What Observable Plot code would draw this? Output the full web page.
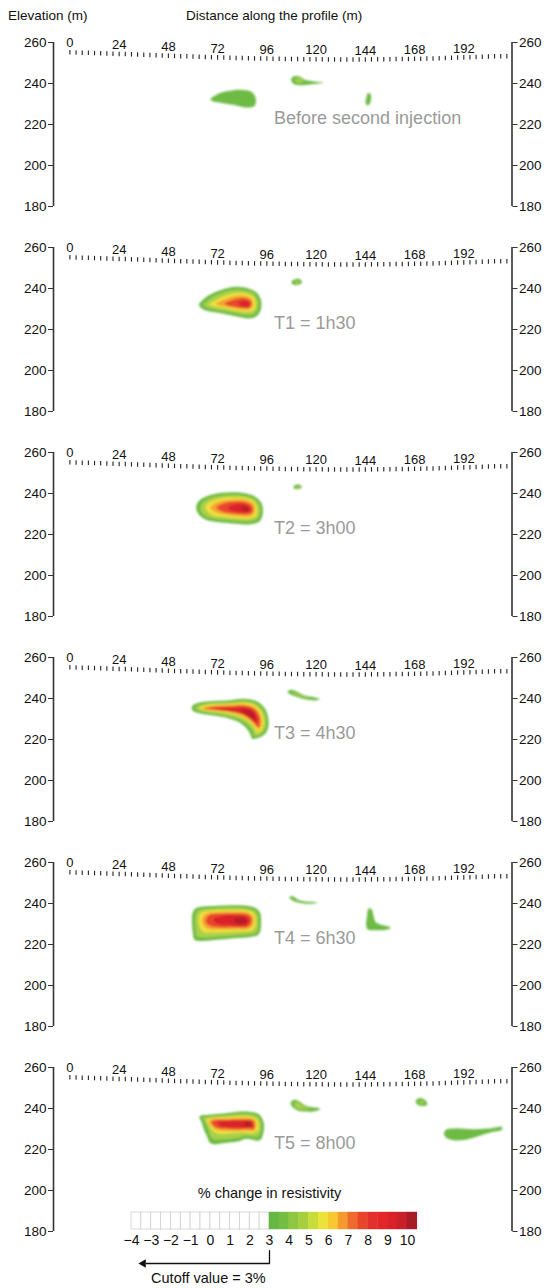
<!DOCTYPE html>
<html><head><meta charset="utf-8">
<script src="https://cdn.jsdelivr.net/npm/d3@7"></script>
<script src="https://cdn.jsdelivr.net/npm/@observablehq/plot@0.6"></script>
<style>
body{margin:0;background:#fff;font-family:"Liberation Sans",Arial,sans-serif;}
#wrap{position:relative;width:546px;height:1288px;overflow:hidden;}
.hdr{position:absolute;top:8px;font-size:13.5px;line-height:15px;color:#111;}
#panels{position:absolute;top:24px;left:0;}
#panels svg{display:block;}
#legend{position:absolute;left:0;top:1180px;}
#legend svg{display:block;}
</style></head><body>
<div id="wrap">
<div class="hdr" style="left:8px">Elevation (m)</div>
<div class="hdr" style="left:186px">Distance along the profile (m)</div>
<div id="panels"></div>
<div id="legend"></div>
</div>
<script>
// ---------------- data ----------------
const yTicks = [180, 200, 220, 240, 260];
const distTicks = [0, 24, 48, 72, 96, 120, 144, 168, 192];
const panelLabels = ["Before second injection", "T1 = 1h30", "T2 = 3h00", "T3 = 4h30", "T4 = 6h30", "T5 = 8h00"];

// electrode positions (m) and elevations (m)
const electrodeX = [0,3,6,9,12,15,18,21,24,27,30,33,36,39,42,45,48,51,54,57,60,63,66,69,72,75,78,81,84,87,90,93,96,99,102,105,108,111,114,117,120,123,126,129,132,135,138,141,144,147,150,153,156,159,162,165,168,171,174,177,180,183,186,189,192,195,198,201,204,207,210,213];
const electrodeZ = [255.0,254.9,254.8,254.7,254.6,254.5,254.4,254.3,254.2,254.1,254.0,253.9,253.8,253.7,253.5,253.4,253.3,253.2,253.1,253.0,252.9,252.8,252.7,252.6,252.5,252.4,252.3,252.25,252.2,252.1,252.0,251.95,251.9,251.85,251.8,251.75,251.7,251.65,251.6,251.6,251.55,251.55,251.5,251.5,251.5,251.5,251.5,251.5,251.5,251.55,251.55,251.6,251.6,251.65,251.7,251.75,251.8,251.85,251.9,252.0,252.1,252.2,252.3,252.4,252.5,252.6,252.7,252.8,252.9,253.0,253.05,253.1];

// contour levels (% change in resistivity) and their fills
const levels = [3, 4, 5, 6, 7, 8, 9];
const levelFills = ["#6dbb45", "#a9d04c", "#f0e03e", "#f4a232", "#e8462d", "#da2429", "#b51e27"];

// contour rings per panel: [level, [[distance, elevation], ...]]
const ringsBefore = [
  [3, [[68.5,232.3],[72,234.8],[77,236.3],[83,237.0],[88.5,236.0],[90.5,233.0],[90.0,229.0],[86,228.3],[80,229.5],[74,230.5],[70,231.2]]],
  [3, [[107.8,242.2],[109.5,243.6],[112,243.4],[114.5,241.8],[119,241.0],[123.5,240.5],[119,239.7],[113,239.2],[109,239.8]]],
  [4, [[109.5,241.8],[111.5,242.6],[114,241.3],[111.5,240.3]]],
  [3, [[145.3,235.3],[146.6,234.8],[146.5,231],[145.2,229.2],[144.2,230.5],[144.6,233.5]]]
];
const ringsT1 = [
  [3, [[62.9,231.9],[66,235.5],[71,238.3],[77,240.3],[82,240.8],[87,240.0],[91,238.0],[93.2,234],[93,229.5],[91,226.5],[87,225.4],[82,226.2],[76,227.5],[70,228.5],[65,229.8]]],
  [4, [[65,232.0],[68,234.8],[72.5,237.2],[78,239.0],[82.5,239.4],[87,238.6],[90,237],[91.8,233.8],[91.6,230],[90,227.8],[87,227],[82,227.7],[76,228.9],[70,229.9],[66.5,230.8]]],
  [5, [[68,232.2],[72,234.8],[77,237],[82.5,237.8],[87,237.2],[89.8,235.5],[90.5,232.5],[89.8,229.6],[87,228.5],[82,229],[76,230.2],[71,231.1]]],
  [6, [[71,232.3],[75,234.5],[80,236.2],[85,236.5],[88.5,235],[89.3,232.5],[88.4,230.2],[85,229.6],[80,230.4],[75,231.4]]],
  [7, [[75.5,232.5],[80,234.6],[85,235.3],[88,234.2],[88.5,232],[87.5,230.6],[84,230.5],[79,231.3]]],
  [8, [[82,232.8],[85.5,234],[87.5,233],[87.2,231.3],[84.5,231.2]]],
  [3, [[108,243.2],[110,244.6],[112.5,244.3],[113,242.6],[110.5,241.7],[108.5,242.1]]],
  [4, [[109.5,243.2],[111,243.8],[112,243],[110.5,242.5]]]
];
const ringsT2 = [
  [3, [[61.5,233],[63,236.5],[67,238.8],[73,240.2],[80,240.6],[86,240],[90.5,238.3],[93.5,235],[94,230],[92.5,226.5],[88,225],[81,225.3],[73,226],[67,227],[63,229.5]]],
  [4, [[63.5,233],[65,236],[68.5,237.8],[74,239],[80,239.4],[86,238.8],[90,237.2],[92.3,234.5],[92.6,230],[91.2,227.6],[87.5,226.4],[81,226.6],[73.5,227.3],[67.5,228.3],[64.5,230.3]]],
  [5, [[66,233],[68,235.8],[73,237.6],[80,238.2],[86,237.7],[89.8,236],[91.3,232.5],[90.8,229],[87.5,227.7],[81,227.9],[74,228.6],[69,229.6]]],
  [6, [[68.5,233],[71,235.4],[76,236.7],[82,237.1],[87,236.5],[89.8,234.5],[90,231],[88.5,229],[83,228.9],[76,229.6],[71,230.8]]],
  [7, [[71.5,233],[75,235.2],[81,236.1],[86.5,235.5],[89,233.5],[88.8,230.7],[86,229.8],[80,230.2],[74.5,231.1]]],
  [8, [[77,233],[81,234.8],[86,234.5],[88,232.8],[87.5,231],[84,230.7],[79,231.6]]],
  [9, [[83,233],[86,233.5],[87.3,232.2],[85.5,231.3]]],
  [3, [[109,243.3],[110.5,244.4],[112.5,244],[112.8,242.7],[110.8,242.2],[109.2,242.5]]],
  [4, [[110.2,243.3],[111.3,243.7],[112,243.1],[111,242.8]]]
];
const ringsT3 = [
  [3, [[59.5,236.2],[63,238],[70,238.8],[78,239.2],[85.5,239.8],[90.8,238.8],[94.8,235.5],[96.6,231],[96.8,226.5],[95.2,222.8],[91.8,220.8],[88.8,220.4],[88,222.5],[86,225.5],[82,228.6],[77,230.4],[70,231.7],[63,232.8],[59.8,234.2]]],
  [4, [[61.3,235.8],[65,237.3],[71,237.9],[78.5,238.2],[85.5,238.7],[90,237.8],[93.6,235],[95.4,231],[95.6,226.8],[94.2,223.6],[91.8,222],[89.8,221.9],[89.2,224],[87.2,226.6],[83,229.6],[77.5,231.4],[70.5,232.7],[64,233.7],[61.5,234.5]]],
  [5, [[63,235.5],[67,236.8],[72,237.3],[79,237.5],[85.5,237.9],[89.5,237],[92.6,234.6],[94.3,230.8],[94.5,227],[93.3,224.5],[91.2,223.2],[90.4,225],[88.4,227.6],[84,230.6],[78,232.4],[71,233.5],[65.5,234.3]]],
  [6, [[64.5,235.3],[69,236.4],[79,236.8],[85.3,237.1],[89,236.2],[91.8,234],[93.3,230.6],[93.4,227.2],[92.3,225],[90.6,226.2],[88.3,228.8],[84,231.5],[78,233.2],[71,234.1],[66,234.6]]],
  [7, [[65.5,235.1],[70,235.9],[79,236.2],[85,236.5],[88.6,235.6],[91.2,233.5],[92.5,230.5],[92.6,227.5],[91.8,226],[89.6,228.4],[86,231.2],[82,233],[76,233.9],[69,234.5]]],
  [8, [[70,235],[80,235.3],[86,235.5],[89,234.3],[90.9,231.8],[91.3,228.8],[90.3,228.2],[87,231],[82,233.2],[76,234]]],
  [9, [[83.5,234.3],[87.5,234],[89.8,232],[90.2,229.8],[88,231.2],[85,233.2]]],
  [3, [[106,243.3],[107.5,244.2],[110,243.6],[114,241.6],[119,240.6],[122,239.7],[120,239.1],[115,239.5],[110,241],[107,242.3]]],
  [4, [[108,243],[110.5,242.5],[114,240.9],[117,240.2],[114,240.3],[110,241.8]]]
];
const ringsT4 = [
  [3, [[59.7,235],[61,237.5],[65,238.5],[72,238.9],[79,239.2],[85,239],[90,238],[92.7,235.5],[93.2,231],[92.8,226.5],[91.5,224.5],[88,223.7],[80,223],[72,222.3],[64,221.7],[60.7,222.3],[59.9,226],[59.5,231]]],
  [4, [[61.3,234.5],[62.5,236.5],[66,237.4],[72,237.8],[79,238],[85,237.8],[89.3,236.8],[91.5,234.8],[91.9,231],[91.5,227],[90.2,225.5],[87.5,225],[80,224.4],[72,223.8],[65,223.4],[62,224],[61.3,227],[61,231]]],
  [5, [[63,234],[64.5,235.8],[68,236.5],[74,236.8],[80,237],[86,236.7],[89.6,235.3],[90.6,232],[90.3,228.5],[88.5,226.7],[84,226.3],[77,226],[70,225.8],[65,226.2],[63.2,228.5],[62.8,231.5]]],
  [6, [[64.7,233.3],[67,235.2],[72,235.8],[80,236],[86,235.7],[88.8,234.3],[89.5,231.8],[89,229],[86.5,227.6],[80,227.4],[73,227.3],[67.5,227.6],[65,229.5]]],
  [7, [[66.3,232.5],[68.5,234.6],[74,235],[81,235.1],[86.3,234.7],[88.3,233.2],[88.5,230.8],[86.8,228.7],[80,228.4],[73,228.4],[68.5,229],[66.5,230.5]]],
  [8, [[70,232.3],[74,233.9],[81,234.2],[86,233.6],[87.3,231.5],[86,229.5],[80,229.3],[74,229.6],[70.5,230.8]]],
  [9, [[80,232.5],[84.5,233],[86.3,231.5],[85,230.2],[81,230.4]]],
  [3, [[107,243.2],[108.5,243.5],[111,242],[115,241],[120.6,240.6],[119,240],[114,240],[110,240.8],[107.5,242.2]]],
  [3, [[145.6,237.6],[147.2,237],[148,234],[149,231],[151.5,229.7],[156.4,228.2],[154,227.2],[149,227],[145.2,227.3],[144.4,229.5],[144.8,233.5]]]
];
const ringsT5 = [
  [3, [[63.2,236.1],[64.3,233],[65,230.5],[66.8,226.5],[68.7,222.9],[75.8,223.2],[82.5,224.0],[85.9,225.2],[92.6,224.5],[94.3,228.1],[94.6,232],[94.0,234.5],[91.8,237.4],[84.2,238.5],[75.8,237.7],[67.4,236.9]]],
  [4, [[65,235.5],[66.3,232.5],[67.5,229.5],[69.5,225.2],[75.8,225],[82,225.6],[86,226.7],[91.5,226.2],[93,228.6],[93.2,232],[92.6,234.5],[90.8,236.4],[84,237.3],[76,236.6],[68,236]]],
  [5, [[66.5,234.5],[67.8,232],[69.5,229.3],[72,227.8],[78,227.8],[84,228.3],[89.5,228],[91.7,229.5],[92,232.5],[91.2,234.8],[89,235.9],[83,236.2],[76,235.8],[69,235.4]]],
  [6, [[67.8,233.8],[69,231.5],[71.5,229.6],[78,229],[85,229.2],[90,229.3],[90.8,232],[90.3,234.3],[88,235.2],[82,235.3],[75,235],[69.5,234.8]]],
  [7, [[69,233.6],[70.3,231.3],[73,230.2],[79,229.9],[86,230],[89.8,230.2],[90,232.5],[89.3,234.2],[84,234.6],[76,234.5],[70.5,234.3]]],
  [8, [[72,233.3],[74,231.2],[80,230.8],[87,230.9],[89,232.3],[88,233.8],[82,234],[76,233.9]]],
  [9, [[85,232.8],[86,231.3],[88.5,231.4],[89,232.5],[88,233.5],[86,233.5]]],
  [3, [[107.6,243],[109,244.2],[111.5,243.7],[115,241.3],[122,239.8],[120,238.8],[115,238.5],[110.5,239.3],[108,241.3]]],
  [4, [[109.3,242.3],[111,243],[114,241],[117,240],[114,239.6],[110.5,240.3]]],
  [3, [[168.6,243.8],[170.5,245.1],[172.8,244.4],[174.3,242],[172.5,241.2],[169.5,241.8]]],
  [4, [[170.2,243.6],[171.8,243.8],[172.5,242.5],[171,242.2]]],
  [3, [[182.3,228],[183.5,229.8],[188,230.3],[196,229.9],[204,230.2],[210.8,230.9],[210.5,229.6],[205,228.3],[199,226.5],[193,224.8],[187,224.5],[183.3,225.8]]]
];
const panelRings = [ringsBefore, ringsT1, ringsT2, ringsT3, ringsT4, ringsT5];

// legend
const legendWhiteCells = [-4,-3.5,-3,-2.5,-2,-1.5,-1,-0.5,0,0.5,1,1.5,2,2.5];
const legendColorCells = [3,3.5,4,4.5,5,5.5,6,6.5,7,7.5,8,8.5,9,9.5,10];
const legendColors = ["#66b844","#74bd43","#8dc640","#a6cf3d","#c9dc3a","#ece33a","#f7c832","#f49a2e","#ee6a2d","#e8452b","#e4302a","#e2262a","#da2029","#c81f28","#a81c25"];
const legendTickValues = [-4,-3,-2,-1,0,1,2,3,4,5,6,7,8,9,10];
const legendTickText = ["\u22124","\u22123","\u22122","\u22121","0","1","2","3","4","5","6","7","8","9","10"];
const cutoffValue = 3;

// ---------------- drawing ----------------
const FONT = "'Liberation Sans', Arial, Helvetica, sans-serif";
const xMin = -8, xMax = 215.5;
const electrodes = electrodeX.map((x, i) => ({x, z: electrodeZ[i]}));
const elevAt = d => electrodeZ[electrodeX.indexOf(d)];
const fillOf = lv => levelFills[levels.indexOf(lv)];

const holder = document.getElementById("panels");
panelRings.forEach((rings, p) => {
  const rows = rings.flatMap((r, i) => r[1].map(pt => ({ring: i, fill: fillOf(r[0]), x: pt[0], y: pt[1]})));
  const svg = Plot.plot({
    width: 546, height: 205,
    marginLeft: 53, marginRight: 34.5, marginTop: 18, marginBottom: 23,
    x: {domain: [xMin, xMax], axis: null},
    y: {domain: [180, 260], axis: null},
    color: {type: "identity"},
    style: {fontFamily: FONT, fontSize: "13.5px", color: "#111", background: "transparent", overflow: "visible"},
    marks: [
      Plot.line(rows, {x: "x", y: "y", z: "ring", fill: "fill", stroke: "none", curve: "catmull-rom-closed"}),
      Plot.ruleX(electrodes, {x: "x", y1: d => d.z - 1.1, y2: d => d.z + 1.1, stroke: "#222", strokeWidth: 1.1}),
      Plot.text(distTicks, {x: d => d, y: d => elevAt(d), dy: -9.5, text: d => String(d), fontSize: 13, fill: "#111"}),
      Plot.text([panelLabels[p]], {x: 99.5, y: 223.2, text: d => d, textAnchor: "start", fontSize: 18, fill: "#9a9a9a"}),
      Plot.axisY({anchor: "left", ticks: yTicks, tickSize: 5, tickPadding: 2, tickFormat: d => String(d), label: null, stroke: "#333", fontSize: 13.5}),
      Plot.axisY({anchor: "right", ticks: yTicks, tickSize: 5, tickPadding: 2, tickFormat: d => String(d), label: null, stroke: "#333", fontSize: 13.5}),
      Plot.ruleX([xMin, xMax], {y1: 180, y2: 260, stroke: "#333", strokeWidth: 1.6})
    ]
  });
  const s = d3.select(svg);
  s.append("defs").html(`<filter id="soft${p}" x="-30%" y="-30%" width="160%" height="160%"><feGaussianBlur stdDeviation="0.8"/></filter>`);
  s.select('g[aria-label="line"]').attr("filter", `url(#soft${p})`);
  holder.appendChild(svg);
});

// legend: y is measured in bar heights (0 = bar bottom, 1 = bar top)
const legend = Plot.plot({
  width: 546, height: 108,
  marginLeft: 131, marginRight: 139, marginTop: 32, marginBottom: 59,
  x: {domain: [-4, 10], axis: null},
  y: {domain: [0, 1], axis: null},
  style: {fontFamily: FONT, fontSize: "14px", color: "#111", background: "none", overflow: "visible"},
  marks: [
    Plot.rect(legendWhiteCells, {x1: d => d, x2: d => d + 0.5, y1: 0, y2: 1, fill: "#fff", stroke: "#cfcfcf", strokeWidth: 0.8}),
    Plot.rect(legendColorCells, {x1: d => d, x2: d => d + 0.5, y1: 0, y2: 1, fill: (d, i) => legendColors[i], inset: -0.2}),
    Plot.text(["% change in resistivity"], {x: cutoffValue, y: 2.12, text: d => d, fontSize: 14.5, fill: "#111"}),
    Plot.text(legendTickValues, {x: d => d, y: -0.65, text: (d, i) => legendTickText[i], fontSize: 14, fill: "#111"}),
    Plot.line([[cutoffValue, -1.24], [cutoffValue, -2], [-3.25, -2]], {x: d => d[0], y: d => d[1], stroke: "#111", strokeWidth: 1.3}),
    Plot.dot([[-3.4, -2]], {x: d => d[0], y: d => d[1], symbol: "triangle", rotate: -90, r: 3.2, fill: "#111", stroke: "none"}),
    Plot.text(["Cutoff value = 3%"], {x: -0.1, y: -2.88, text: d => d, fontSize: 14.5, fill: "#111"})
  ]
});
document.getElementById("legend").appendChild(legend);
</script>
</body></html>
